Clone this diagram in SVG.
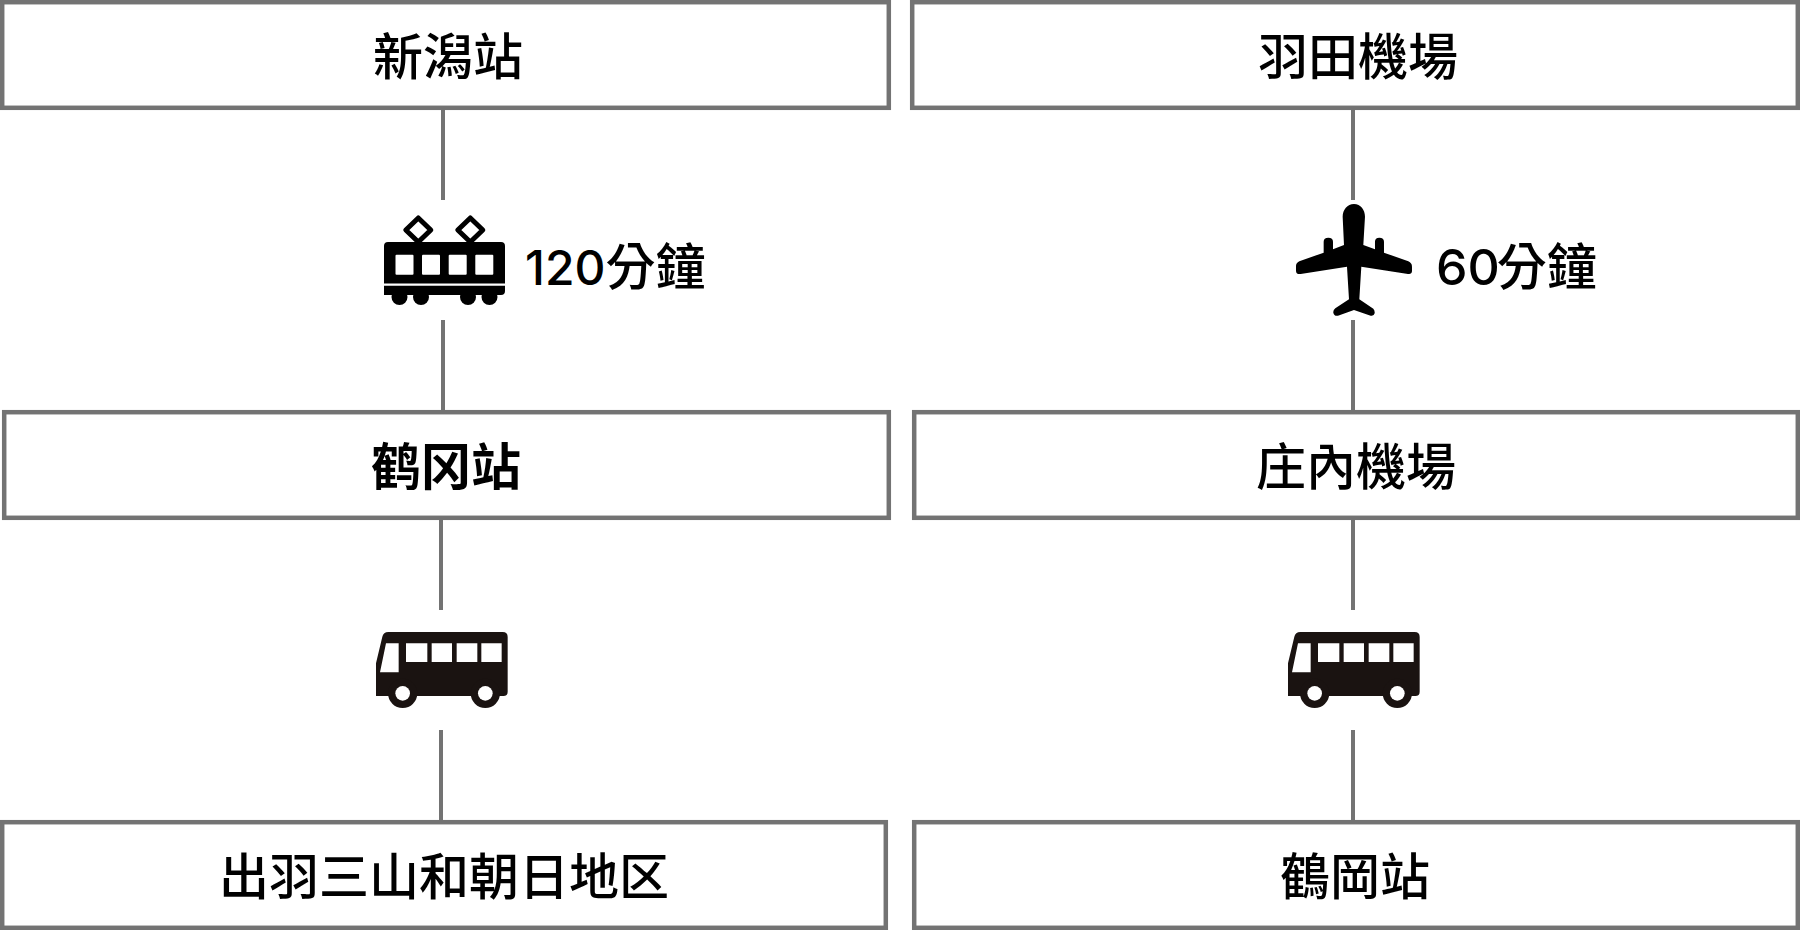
<svg xmlns="http://www.w3.org/2000/svg" width="1800" height="930" viewBox="0 0 1800 930">
<style>
.box{fill:#fff;stroke:#737373;stroke-width:4.500}
.c{stroke:#737373;stroke-width:4;fill:none}
text{font-family:"Noto Sans CJK TC","Noto Sans CJK JP",sans-serif;font-size:50px;font-weight:500;fill:#000;text-anchor:middle}
.t{font-size:50px;text-anchor:start}
.d{font-family:"Inter",sans-serif;font-size:48px;font-weight:500}
</style>
<defs>
<g id="bus" transform="translate(350,610) scale(.33333)"><path fill="#1a1311" fill-rule="evenodd" d="M115 66H458Q473 66 473 81V245Q473 258 460 258H78V240V160L97 80Q100 66 115 66ZM108 100L90 187H146V100ZM168 100V156H232V100ZM245 100V156H306V100ZM320 100V156H382V100ZM394 100V156H455V100Z"/>
<path fill="#1a1311" d="M78 160V245Q78 258 92 258H120V240H78Z"/>
<circle cx="158" cy="250" r="44" fill="#1a1311"/><circle cx="158" cy="250" r="22" fill="#fff"/>
<circle cx="406" cy="250" r="44" fill="#1a1311"/><circle cx="406" cy="250" r="22" fill="#fff"/></g>
</defs>
<g id="connectors">
<path class="c" d="M443 110V200M443 320V410M441 520V610M441 730V820M1353 110V200M1353 320V410M1353 520V610M1353 730V820"/>
</g>
<g id="n1"><rect class="box" x="2.200" y="2.200" width="886.600" height="105.600"/><text x="448" y="75">新潟站</text></g>
<g id="n2"><rect class="box" x="4.200" y="412.200" width="884.600" height="105.600"/><text x="446" y="485" style="font-family:'Noto Sans CJK SC',sans-serif;font-weight:700">鹤冈站</text></g>
<g id="n3"><rect class="box" x="2.200" y="822.200" width="883.600" height="105.600"/><text x="444" y="895">出羽三山和朝日地区</text></g>
<g id="n4"><rect class="box" x="912.200" y="2.200" width="885.600" height="105.600"/><text x="1358" y="75">羽田機場</text></g>
<g id="n5"><rect class="box" x="914.200" y="412.200" width="883.600" height="105.600"/><text x="1356" y="485">庄內機場</text></g>
<g id="n6"><rect class="box" x="914.200" y="822.200" width="883.600" height="105.600"/><text x="1355" y="895">鶴岡站</text></g>
<g id="train">
<path d="M388 242H501Q505 242 505 246V283.500H384V246Q384 242 388 242ZM384 285.700H505V291Q505 295 501 295H384Z"/>
<g fill="#fff"><rect x="395.500" y="254.700" width="18" height="20" rx="1"/><rect x="422" y="254.700" width="18" height="20" rx="1"/><rect x="448.700" y="254.700" width="18" height="20" rx="1"/><rect x="475.300" y="254.700" width="18" height="20" rx="1"/></g>
<circle cx="399.500" cy="297" r="8"/><circle cx="421" cy="297" r="8"/><circle cx="468" cy="297" r="8"/><circle cx="489.500" cy="297" r="8"/>
<path fill="#fff" stroke="#000" stroke-width="5" stroke-linejoin="round" d="M418.300 218L430.800 230L418.300 242L405.800 230ZM470.300 218L482.800 230L470.300 242L457.800 230Z"/>
</g>
<text class="t" x="525" y="285"><tspan class="d">120</tspan>分鐘</text>
<g id="plane">
<path transform="translate(1260,190) scale(.3333)" d="M282 42C302 42 315 60 315 80L310 165L345 178V155Q345 143 358 143Q372 143 372 155V188L445 214Q456 219 456 230V244Q455 254 444 252L304 230L298 328L340 356Q345 362 344 370Q342 379 332 377L282 360L234 377Q222 379 220 368Q219 361 226 355L267 328L261 230L122 252Q108 254 108 242V228Q108 219 118 214L191 188V155Q191 143 205 143Q219 143 219 155V178L252 165L248 80C248 60 262 42 282 42Z"/>
</g>
<text class="t" x="1436" y="285"><tspan class="d" style="font-size:50px">60</tspan><tspan dx="-3">分鐘</tspan></text>
<g id="bus1"><use href="#bus"/></g>
<g id="bus2"><use href="#bus" transform="translate(912,0)"/></g>
</svg>
